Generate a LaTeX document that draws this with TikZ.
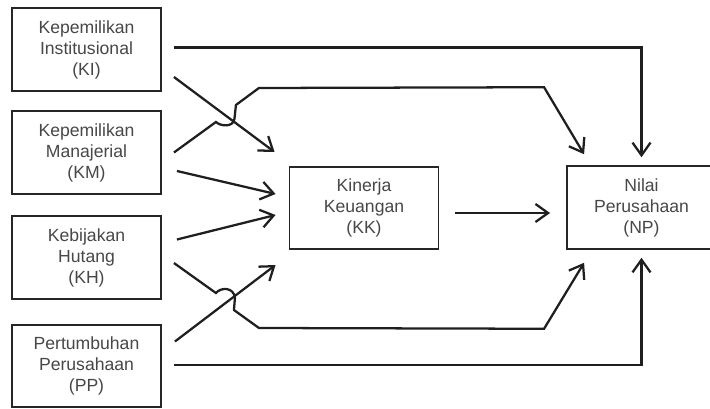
\documentclass[tikz,border=0pt]{standalone}
\usepackage{fontspec}
\setmainfont{Liberation Sans}
\usetikzlibrary{arrows.meta,calc}
\begin{document}
\begin{tikzpicture}[x=0.75pt,y=-0.75pt,
  box/.style={draw=black!85,line width=1.4pt,minimum width=111.75pt,minimum height=62pt,
    align=center,font=\fontsize{13.2}{15.75}\selectfont,text=black!72,inner sep=0pt},
  conn/.style={draw=black!88,line width=1.7pt,line join=miter,
    -{Straight Barb[length=9.5pt,width=13.5pt]}}]
\useasboundingbox (0,0) rectangle (710,409);
\node[box] (KI) at (86.5,49.5) {Kepemilikan\\Institusional\\(KI)};
\node[box] (KM) at (86.5,152.5) {Kepemilikan\\Manajerial\\(KM)};
\node[box] (KH) at (86.5,257.5) {Kebijakan\\Hutang\\(KH)};
\node[box] (PP) at (86.5,366) {Pertumbuhan\\Perusahaan\\(PP)};
\node[box] (KK) at (364,208) {Kinerja\\Keuangan\\(KK)};
\node[box] (NP) at (641.5,207.5) {Nilai\\Perusahaan\\(NP)};
\coordinate (h1) at ($(KM.east)+(54,-30.5)$);
\coordinate (h2) at ($(KH.east)+(54,35.5)$);
% KI -> NP
\draw[conn] ($(KI.east)+(12,-2)$) -| ($(NP.north)+(0,-8)$);
% KI -> KK
\draw[conn] ($(KI.east)+(12,27.5)$) -- ($(KK.west)+(-14,-56)$);
% KM -> NP (with hop)
\draw[conn] ($(KM.east)+(12,0)$) -- (h1) .. controls +(4,4) and +(-1.5,9) .. ++(18.5,-3)
  -- ++(1.5,-14) -- ++(23,-17) -- ($(NP.north west)+(-22,-78)$) -- ($(NP.north west)+(18,-11)$);
% KM -> KK
\draw[conn] ($(KM.east)+(15,18.5)$) -- ($(KK.west)+(-13,-14)$);
% KH -> KK
\draw[conn] ($(KH.east)+(15,-18)$) -- ($(KK.west)+(-13,7)$);
% KH -> NP (with hop)
\draw[conn] ($(KH.east)+(12,5.5)$) -- (h2) .. controls +(5,-6) and +(-1,-11) .. ++(19,5)
  -- ++(-1,12) -- ++(25,18) -- ($(NP.south west)+(-22,79)$) -- ($(NP.south west)+(18,13)$);
% PP -> KK
\draw[conn] ($(PP.east)+(13,-24.5)$) -- ($(KK.west)+(-13,57)$);
% PP -> NP
\draw[conn] ($(PP.east)+(12,-1)$) -| ($(NP.south)+(0,8)$);
% KK -> NP
\draw[conn] ($(KK.east)+(16,5)$) -- ($(NP.west)+(-16,5.5)$);
\end{tikzpicture}
\end{document}
